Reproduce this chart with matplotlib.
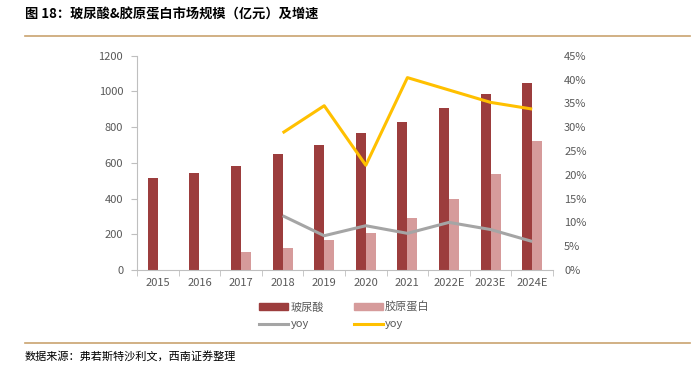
import matplotlib
matplotlib.use('Agg')
import matplotlib.pyplot as plt
import numpy as np
from matplotlib.lines import Line2D
from matplotlib.patches import Patch

plt.rcParams['font.family'] = ['Noto Sans CJK SC', 'DejaVu Sans']

# données
annees = ['2015', '2016', '2017', '2018', '2019', '2020', '2021', '2022E', '2023E', '2024E']
acide_hyal = [513, 541, 584, 651, 700, 765, 827, 909, 985, 1045]
collagene = [None, None, 99, 123, 168, 207, 289, 397, 536, 722]
yoy_hyal = [None, None, None, 11.4, 7.2, 9.3, 7.7, 10.0, 8.5, 6.0]
yoy_coll = [None, None, None, 28.8, 34.5, 22.0, 40.4, 37.8, 35.2, 33.8]

c_fonce = '#9c3d3d'
c_clair = '#d69b9b'
c_gris = '#a5a5a5'
c_jaune = '#ffc000'
c_texte = '#595959'
c_trait = '#c9a36f'

fig = plt.figure(figsize=(6.97, 3.78), dpi=100)
ax = fig.add_axes([0.1966, 0.2857, 0.5968, 0.5669])
ax2 = ax.twinx()

x = np.arange(len(annees))
w = 0.24
ax.bar(x - w / 2, acide_hyal, width=w, color=c_fonce, zorder=2)
coll = [np.nan if v is None else v for v in collagene]
ax.bar(x + w / 2, coll, width=w, color=c_clair, zorder=2)

yh = [np.nan if v is None else v for v in yoy_hyal]
yc = [np.nan if v is None else v for v in yoy_coll]
ax2.plot(x, yh, color=c_gris, lw=2.2, solid_capstyle='butt')
ax2.plot(x, yc, color=c_jaune, lw=2.2, solid_capstyle='butt')

ax.set_xlim(-0.5, len(annees) - 0.5)
ax.set_ylim(0, 1200)
ax.set_yticks(range(0, 1201, 200))
ax2.set_ylim(0, 45)
ax2.set_yticks(range(0, 46, 5))
ax2.set_yticklabels(['%d%%' % v for v in range(0, 46, 5)])

ax.set_xticks(x)
ax.set_xticklabels(annees)
ax.set_xticks(np.arange(-0.5, len(annees), 1), minor=True)
ax.tick_params(axis='x', which='major', length=0, pad=6, labelsize=8, labelcolor=c_texte)
ax.tick_params(axis='x', which='minor', length=4, color='#bfbfbf')
ax.tick_params(axis='y', length=4, color='#bfbfbf', labelsize=8, labelcolor=c_texte, pad=6)
ax2.tick_params(axis='y', length=0, labelsize=8, labelcolor=c_texte, pad=8)

for a in (ax, ax2):
    for s in ['top', 'right']:
        a.spines[s].set_visible(False)
ax2.spines['left'].set_visible(False)
ax2.spines['bottom'].set_visible(False)
ax.spines['left'].set_color('#bfbfbf')
ax.spines['bottom'].set_color('#bfbfbf')

poignees = [Patch(color=c_fonce), Line2D([], [], color=c_gris, lw=2.2),
            Patch(color=c_clair), Line2D([], [], color=c_jaune, lw=2.2)]
etiquettes = ['玻尿酸', 'yoy', '胶原蛋白', 'yoy']
fig.legend(poignees, etiquettes, ncol=2, loc='center', bbox_to_anchor=(0.494, 0.165),
           frameon=False, fontsize=8, labelcolor=c_texte, handlelength=2.6,
           handleheight=0.6, columnspacing=2.7, handletextpad=0.2, labelspacing=0.6)

fig.text(0.036, 0.962, '图 18：玻尿酸&胶原蛋白市场规模（亿元）及增速', fontsize=9.5,
         fontweight='bold', va='center', ha='left', color='#000000')
fig.add_artist(Line2D([0.036, 0.99], [0.905, 0.905], color=c_trait, lw=1.2))
fig.add_artist(Line2D([0.036, 0.99], [0.093, 0.093], color=c_trait, lw=1.2))
fig.text(0.036, 0.055, '数据来源：弗若斯特沙利文，西南证券整理', fontsize=8,
         va='center', ha='left', color='#000000')

fig.savefig('out.png', dpi=100)
